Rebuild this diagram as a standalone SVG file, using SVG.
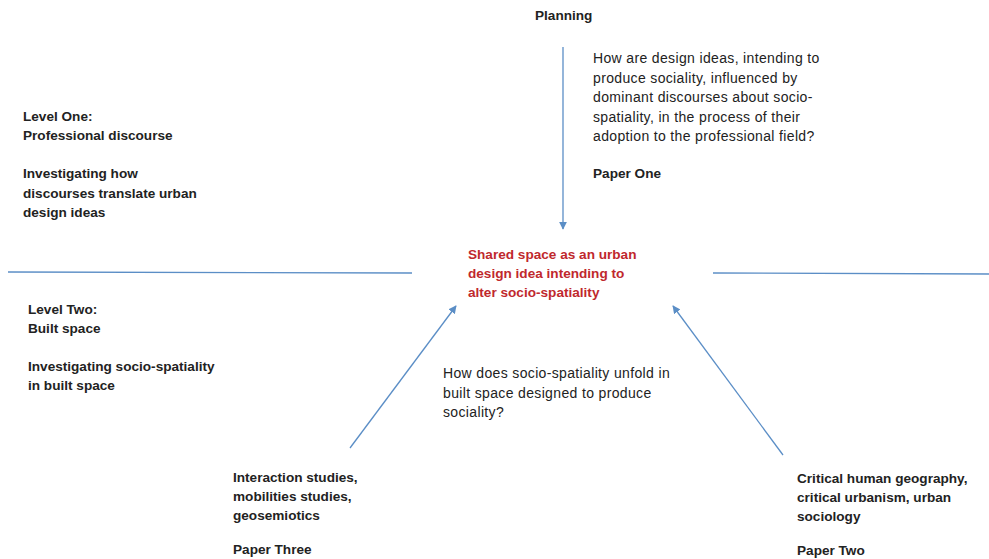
<svg xmlns="http://www.w3.org/2000/svg" width="989" height="559" viewBox="0 0 989 559">
<style>
text{font-family:"Liberation Sans","Open Sans",sans-serif;font-size:14px;letter-spacing:0.35px;fill:#222}
.b{font-weight:bold;font-size:13.6px;letter-spacing:0}
.r{fill:#c0282d;font-weight:bold;font-size:13.6px;letter-spacing:0}
.ln{stroke:#5b8ec6;stroke-width:1.3;fill:none}
</style>
<defs>
<marker id="ah" viewBox="0 0 10 10" refX="9" refY="5" markerWidth="8" markerHeight="8" markerUnits="userSpaceOnUse" orient="auto">
<path d="M0,0 L10,5 L0,10 z" fill="#5b8ec6"/>
</marker>
</defs>
<g id="connectors">
<line class="ln" x1="563" y1="47" x2="563" y2="229" marker-end="url(#ah)"/>
<line class="ln" x1="350" y1="448" x2="456" y2="306" marker-end="url(#ah)"/>
<line class="ln" x1="783" y1="455" x2="673" y2="306" marker-end="url(#ah)"/>
<line class="ln" x1="8" y1="272" x2="412" y2="273"/>
<line class="ln" x1="713" y1="273" x2="989" y2="274"/>
</g>
<g id="planning"><text class="b" x="535" y="20">Planning</text></g>
<g id="paper-one">
<text x="593" y="63">How are design ideas, intending to</text>
<text x="593" y="83">produce sociality, influenced by</text>
<text x="593" y="102">dominant discourses about socio-</text>
<text x="593" y="122">spatiality, in the process of their</text>
<text x="593" y="141">adoption to the professional field?</text>
<text class="b" x="593" y="178">Paper One</text>
</g>
<g id="level-one">
<text class="b" x="23" y="121">Level One:</text>
<text class="b" x="23" y="140">Professional discourse</text>
<text class="b" x="23" y="178">Investigating how</text>
<text class="b" x="23" y="198">discourses translate urban</text>
<text class="b" x="23" y="217">design ideas</text>
</g>
<g id="center">
<text class="r" x="468" y="259">Shared space as an urban</text>
<text class="r" x="468" y="278">design idea intending to</text>
<text class="r" x="468" y="297">alter socio-spatiality</text>
</g>
<g id="level-two">
<text class="b" x="28" y="314">Level Two:</text>
<text class="b" x="28" y="333">Built space</text>
<text class="b" x="28" y="371">Investigating socio-spatiality</text>
<text class="b" x="28" y="390">in built space</text>
</g>
<g id="question-two">
<text x="443" y="378">How does socio-spatiality unfold in</text>
<text x="443" y="398">built space designed to produce</text>
<text x="443" y="417">sociality?</text>
</g>
<g id="paper-three">
<text class="b" x="233" y="482">Interaction studies,</text>
<text class="b" x="233" y="501">mobilities studies,</text>
<text class="b" x="233" y="520">geosemiotics</text>
<text class="b" x="233" y="554">Paper Three</text>
</g>
<g id="paper-two">
<text class="b" x="797" y="483">Critical human geography,</text>
<text class="b" x="797" y="502">critical urbanism, urban</text>
<text class="b" x="797" y="521">sociology</text>
<text class="b" x="797" y="555">Paper Two</text>
</g>
</svg>
